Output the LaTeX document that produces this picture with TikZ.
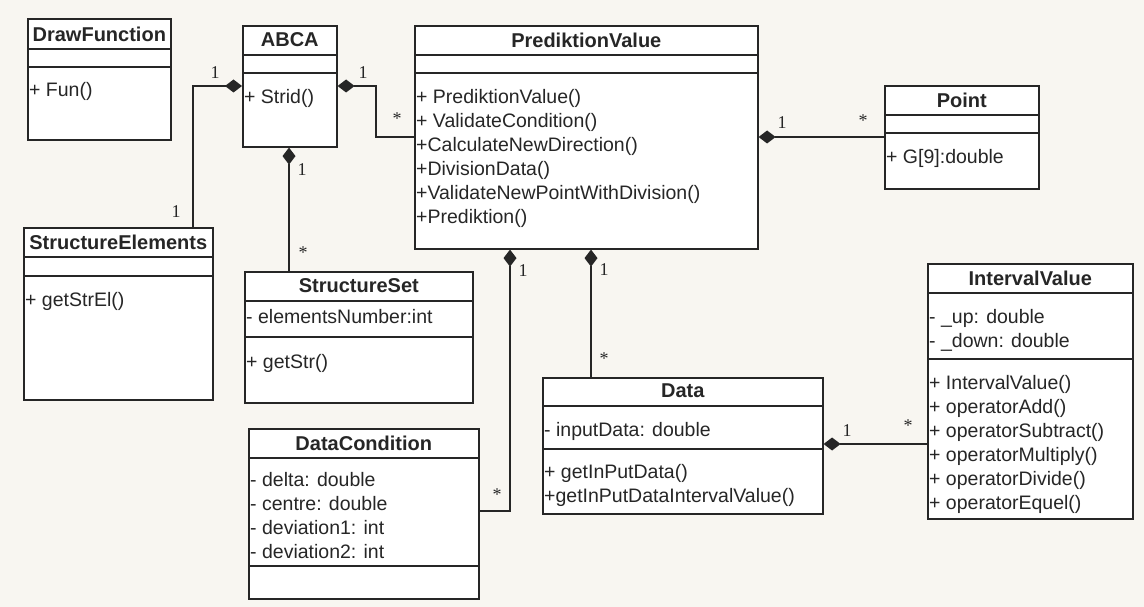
\documentclass[tikz,border=0pt]{standalone}
\usepackage{fontspec}
\setmainfont{Liberation Sans}
\newfontfamily\multfont{Liberation Serif}
\usetikzlibrary{arrows.meta}

\definecolor{paper}{HTML}{F8F6F1}
\definecolor{ink}{HTML}{262626}

\tikzset{
  classbox/.style={draw=ink, line width=1.6pt, fill=white, inner sep=0pt, anchor=north west},
  sep/.style={draw=ink, line width=1.6pt},
  ctitle/.style={font=\fontsize{20}{24}\selectfont\bfseries, text=ink, inner sep=0pt},
  members/.style={font=\fontsize{19.5}{24}\selectfont, text=ink, align=left, anchor=north west, inner sep=0pt},
  comp/.style={draw=ink, line width=1.3pt, {Diamond[length=17pt,width=13pt]}-},
  mult/.style={font=\multfont\fontsize{18}{18}\selectfont, text=ink, inner sep=0pt},
}

\begin{document}
\begin{tikzpicture}[x=1pt,y=-1pt]
      \fill[paper] (0,0) rectangle (1144,607);
      \useasboundingbox (0,0) rectangle (1144,607);

      % DrawFunction
      \node[classbox, minimum width=143pt, minimum height=121pt] (drawfn) at (27,18) {};
      \draw[sep] (drawfn.west |- 0,49) -- (drawfn.east |- 0,49);
      \draw[sep] (drawfn.west |- 0,67) -- (drawfn.east |- 0,67);
      \node[ctitle] (drawfn-t) at (drawfn.north |- 0,34) {DrawFunction};
      \node[members] (drawfn-m) at ([xshift=2pt]drawfn.west |- 0,82) {+ Fun()};

      % ABCA
      \node[classbox, minimum width=94pt, minimum height=121pt] (abca) at (242,25) {};
      \draw[sep] (abca.west |- 0,55) -- (abca.east |- 0,55);
      \draw[sep] (abca.west |- 0,73) -- (abca.east |- 0,73);
      \node[ctitle] (abca-t) at (abca.north |- 0,40) {ABCA};
      \node[members] (abca-m) at ([xshift=2pt]abca.west |- 0,89) {+ Strid()};

      % PrediktionValue
      \node[classbox, minimum width=343pt, minimum height=223pt] (pv) at (414,25) {};
      \draw[sep] (pv.west |- 0,55) -- (pv.east |- 0,55);
      \draw[sep] (pv.west |- 0,73) -- (pv.east |- 0,73);
      \node[ctitle] (pv-t) at (pv.north |- 0,40) {PrediktionValue};
      \node[members] (pv-m) at ([xshift=2pt]pv.west |- 0,89) {+ PrediktionValue()\\+ ValidateCondition()\\+CalculateNewDirection()\\+DivisionData()\\+ValidateNewPointWithDivision()\\+Prediktion()};

      % Point
      \node[classbox, minimum width=154pt, minimum height=103pt] (point) at (884,85) {};
      \draw[sep] (point.west |- 0,115) -- (point.east |- 0,115);
      \draw[sep] (point.west |- 0,133) -- (point.east |- 0,133);
      \node[ctitle] (point-t) at (point.north |- 0,100) {Point};
      \node[members] (point-m) at ([xshift=2pt]point.west |- 0,149) {+ G[9]:double};

      % StructureElements
      \node[classbox, minimum width=189pt, minimum height=172pt] (strel) at (23,227) {};
      \draw[sep] (strel.west |- 0,257) -- (strel.east |- 0,257);
      \draw[sep] (strel.west |- 0,276) -- (strel.east |- 0,276);
      \node[ctitle] (strel-t) at (strel.north |- 0,242) {StructureElements};
      \node[members] (strel-m) at ([xshift=2pt]strel.west |- 0,292) {+ getStrEl()};

      % StructureSet
      \node[classbox, minimum width=228pt, minimum height=131pt] (strset) at (244,271) {};
      \draw[sep] (strset.west |- 0,301) -- (strset.east |- 0,301);
      \draw[sep] (strset.west |- 0,337) -- (strset.east |- 0,337);
      \node[ctitle] (strset-t) at (strset.north |- 0,286) {StructureSet};
      \node[members] (strset-a) at ([xshift=2pt]strset.west |- 0,309) {- elementsNumber:int};
      \node[members] (strset-m) at ([xshift=2pt]strset.west |- 0,354) {+ getStr()};

      % DataCondition
      \node[classbox, minimum width=230pt, minimum height=170pt] (dcond) at (248,428) {};
      \draw[sep] (dcond.west |- 0,458) -- (dcond.east |- 0,458);
      \draw[sep] (dcond.west |- 0,566) -- (dcond.east |- 0,566);
      \node[ctitle] (dcond-t) at (dcond.north |- 0,443) {DataCondition};
      \node[members] (dcond-a) at ([xshift=2pt]dcond.west |- 0,472) {- delta: double\\- centre: double\\- deviation1: int\\- deviation2: int};

      % Data
      \node[classbox, minimum width=280pt, minimum height=136pt] (data) at (542,377) {};
      \draw[sep] (data.west |- 0,406) -- (data.east |- 0,406);
      \draw[sep] (data.west |- 0,449) -- (data.east |- 0,449);
      \node[ctitle] (data-t) at (data.north |- 0,391) {Data};
      \node[members] (data-a) at ([xshift=2pt]data.west |- 0,422) {- inputData: double};
      \node[members] (data-m) at ([xshift=2pt]data.west |- 0,464) {+ getInPutData()\\+getInPutDataIntervalValue()};

      % IntervalValue
      \node[classbox, minimum width=205pt, minimum height=255pt] (ival) at (927,263) {};
      \draw[sep] (ival.west |- 0,293) -- (ival.east |- 0,293);
      \draw[sep] (ival.west |- 0,359) -- (ival.east |- 0,359);
      \node[ctitle] (ival-t) at (ival.north |- 0,278) {IntervalValue};
      \node[members] (ival-a) at ([xshift=2pt]ival.west |- 0,309) {- \_up: double\\- \_down: double};
      \node[members] (ival-m) at ([xshift=2pt]ival.west |- 0,375) {+ IntervalValue()\\+ operatorAdd()\\+ operatorSubtract()\\+ operatorMultiply()\\+ operatorDivide()\\+ operatorEquel()};

      % compositions
      \draw[comp] (abca.west |- 0,86) -| (strel.north -| 193,0);
      \draw[comp] (abca.east |- 0,86) -| (376,137) -- (pv.west |- 0,137);
      \draw[comp] (abca.south -| 289,0) -- (strset.north -| 289,0);
      \draw[comp] (pv.east |- 0,137) -- (point.west |- 0,137);
      \draw[comp] (pv.south -| 510,0) |- (dcond.east |- 0,511);
      \draw[comp] (pv.south -| 591,0) -- (data.north -| 591,0);
      \draw[comp] (data.east |- 0,444) -- (ival.west |- 0,444);

      \node[mult] (m1) at (215,73) {1};
      \node[mult] (m2) at (176,212) {1};
      \node[mult] (m3) at (363,73) {1};
      \node[mult] (m4) at (397,119) {*};
      \node[mult] (m5) at (302,170) {1};
      \node[mult] (m6) at (303,253) {*};
      \node[mult] (m7) at (782,123) {1};
      \node[mult] (m8) at (863,121) {*};
      \node[mult] (m9) at (523,271) {1};
      \node[mult] (m10) at (497,495) {*};
      \node[mult] (m11) at (604,270) {1};
      \node[mult] (m12) at (604,359) {*};
      \node[mult] (m13) at (847,431) {1};
      \node[mult] (m14) at (908,426) {*};
    \end{tikzpicture}
\end{document}
